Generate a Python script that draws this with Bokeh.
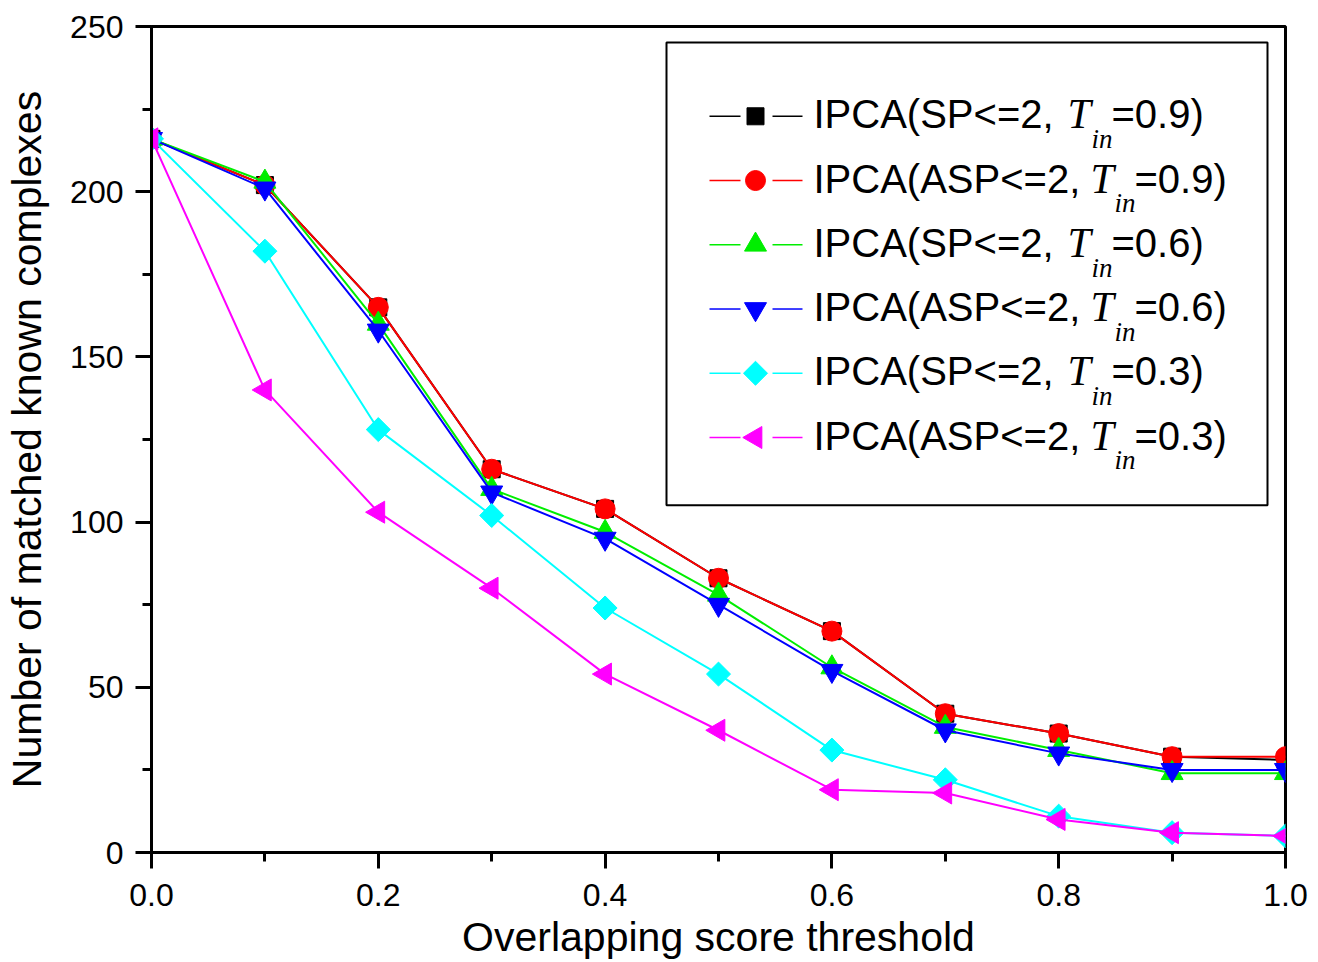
from bokeh.plotting import figure
from bokeh.models import Range1d, SingleIntervalTicker, NumeralTickFormatter, Label
from bokeh.embed import file_html
from bokeh.resources import INLINE
import math

# ---------------- data ----------------
thresholds = [0.0, 0.1, 0.2, 0.3, 0.4, 0.5, 0.6, 0.7, 0.8, 0.9, 1.0]
sp_09 = [216, 202, 165, 116, 104, 83, 67, 42, 36, 29, 28]
asp_09 = [216, 202, 165, 116, 104, 83, 67, 42, 36, 29, 29]
sp_06 = [216, 203, 160, 110, 97, 78, 56, 38, 31, 24, 24]
asp_06 = [216, 201, 158, 109, 95, 75, 55, 37, 30, 25, 25]
sp_03 = [216, 182, 128, 102, 74, 54, 31, 22, 11, 6, 5]
asp_03 = [216, 140, 103, 80, 54, 37, 19, 18, 10, 6, 5]

legend_prefix = ["IPCA(SP<=2, ", "IPCA(ASP<=2, ", "IPCA(SP<=2, ",
                 "IPCA(ASP<=2, ", "IPCA(SP<=2, ", "IPCA(ASP<=2, "]
legend_suffix = ["=0.9)", "=0.9)", "=0.6)", "=0.6)", "=0.3)", "=0.3)"]

series = [sp_09, asp_09, sp_06, asp_06, sp_03, asp_03]
colors = ["black", "red", "#00ee00", "blue", "cyan", "magenta"]
markers = ["square", "circle", "triangle", "inverted_triangle", "square", "triangle"]
angles = [0, 0, 0, 0, math.pi / 4, math.pi / 2]
sizes = [17, 20, 22, 22, 17, 22]

X_MAX, Y_MAX = 1.0, 250

# page-pixel frame geometry (for placing the hand-made legend)
FL, FR, FT, FB = 151, 1285, 26, 854
W, H = 1318, 962


def dx(px):
    return (px - FL) / (FR - FL) * X_MAX


def dy(py):
    return (FB - py) / (FB - FT) * Y_MAX


SANS = "Liberation Sans"
SERIF = "Liberation Serif"

p = figure(width=W, height=H, output_backend="svg", toolbar_location=None,
           x_range=Range1d(0, X_MAX), y_range=Range1d(0, Y_MAX),
           min_border_left=FL, min_border_right=W - FR, min_border_top=FT,
           min_border_bottom=H - FB)
p.background_fill_color = "white"
p.border_fill_color = "white"
p.xgrid.visible = False
p.ygrid.visible = False
p.outline_line_color = "black"
p.outline_line_width = 3
p.outline_line_alpha = 1

p.xaxis.ticker = SingleIntervalTicker(interval=0.2, num_minor_ticks=2)
p.yaxis.ticker = SingleIntervalTicker(interval=50, num_minor_ticks=2)
p.xaxis.formatter = NumeralTickFormatter(format="0.0")
p.xaxis.axis_label = "Overlapping score threshold"
p.yaxis.axis_label = "Number of matched known complexes"
for ax in (p.xaxis, p.yaxis):
    ax.axis_line_width = 3
    ax.axis_line_color = "black"
    ax.major_tick_line_width = 3
    ax.minor_tick_line_width = 3
    ax.major_tick_line_color = "black"
    ax.minor_tick_line_color = "black"
    ax.major_tick_out = 16
    ax.major_tick_in = 0
    ax.minor_tick_out = 9
    ax.minor_tick_in = 0
    ax.major_label_text_font = SANS
    ax.major_label_text_font_size = "32px"
    ax.major_label_text_color = "black"
    ax.axis_label_text_font = SANS
    ax.axis_label_text_font_size = "41px"
    ax.axis_label_text_font_style = "normal"
    ax.axis_label_text_color = "black"
p.xaxis.major_label_standoff = 15
p.xaxis.axis_label_standoff = 5
p.yaxis.major_label_standoff = 12
p.yaxis.axis_label_standoff = 17

# data series
for ys, c, m, a, s in zip(series, colors, markers, angles, sizes):
    p.line(thresholds, ys, line_color=c, line_width=2)
    p.scatter(thresholds, ys, marker=m, angle=a, size=s,
              fill_color=c, line_color=c)

# legend box
p.quad(left=[dx(666)], right=[dx(1267)], top=[dy(42)], bottom=[dy(506)],
       fill_color="white", line_color="black", line_width=2)

for i in range(6):
    base = 128 + 64.4 * i
    cy = base - 12
    shift = 23 if "ASP" in legend_prefix[i] else 0
    p.segment(x0=[dx(709), dx(772)], x1=[dx(740), dx(802)],
              y0=[dy(cy), dy(cy)], y1=[dy(cy), dy(cy)],
              line_color=colors[i], line_width=1.5)
    p.scatter([dx(755)], [dy(cy)], marker=markers[i], angle=angles[i],
              size=sizes[i], fill_color=colors[i], line_color=colors[i])
    p.add_layout(Label(x=dx(813), y=dy(base - 14), text=legend_prefix[i],
                       text_font=SANS, text_font_size="40px",
                       text_baseline="middle", text_color="black"))
    p.add_layout(Label(x=dx(1067 + shift), y=dy(base - 14), text="T",
                       text_font=SERIF, text_font_style="italic",
                       text_font_size="42px", text_baseline="middle",
                       text_color="black"))
    p.add_layout(Label(x=dx(1091 + shift), y=dy(base + 11), text="in",
                       text_font=SERIF, text_font_style="italic",
                       text_font_size="27px", text_baseline="middle",
                       text_color="black"))
    p.add_layout(Label(x=dx(1111 + shift), y=dy(base - 14), text=legend_suffix[i],
                       text_font=SANS, text_font_size="40px",
                       text_baseline="middle", text_color="black"))

open("out.html", "w").write(file_html(p, INLINE))
